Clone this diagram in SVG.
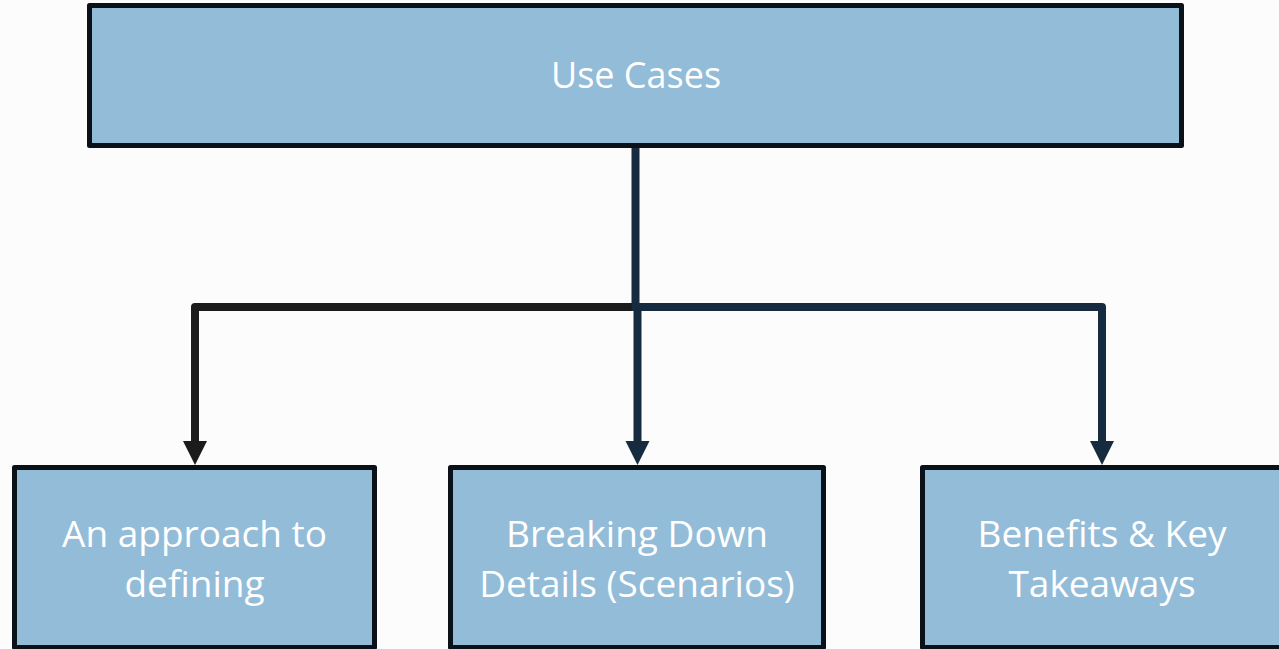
<svg xmlns="http://www.w3.org/2000/svg" width="1279" height="649" viewBox="0 0 1279 649">
  <style>
    .box { fill: #92bcd8; stroke: #0a1118; stroke-width: 5; stroke-linejoin: round; }
    .label { font-family: "Open Sans", "Noto Sans", sans-serif; font-size: 37px; fill: #ffffff; text-anchor: middle; }
    .title { font-size: 36px; }
    .wire { fill: none; stroke-width: 8; stroke-linejoin: round; }
    .navy { stroke: #172b40; }
    .dark { stroke: #1b1b1b; }
  </style>
  <defs>
    <marker id="head-navy" markerUnits="userSpaceOnUse" markerWidth="26" markerHeight="26" refX="2" refY="12" orient="auto" overflow="visible">
      <path d="M0,0 L24,12 L0,24 Z" fill="#172b40"/>
    </marker>
    <marker id="head-dark" markerUnits="userSpaceOnUse" markerWidth="26" markerHeight="26" refX="2" refY="12" orient="auto" overflow="visible">
      <path d="M0,0 L24,12 L0,24 Z" fill="#1b1b1b"/>
    </marker>
  </defs>

  <rect width="1279" height="649" fill="#fcfcfc"/>

  <!-- connectors -->
  <g id="connectors">
    <path class="wire dark" d="M632,307 H195 V443" marker-end="url(#head-dark)"/>
    <path class="wire navy" d="M639,307 H1102 V443" marker-end="url(#head-navy)"/>
    <path class="wire navy" d="M637.5,305 V443" marker-end="url(#head-navy)"/>
    <path class="wire navy" d="M635.5,146 V311"/>
  </g>

  <!-- root -->
  <g id="use-cases">
    <rect class="box" x="89.5" y="5.5" width="1092" height="140"/>
    <text class="label title" x="636" y="88">Use Cases</text>
  </g>

  <!-- children -->
  <g id="approach">
    <rect class="box" x="14.5" y="467.5" width="360" height="180"/>
    <text class="label" x="194.5" y="547">An approach to</text>
    <text class="label" x="194.5" y="597">defining</text>
  </g>

  <g id="breaking-down">
    <rect class="box" x="450.5" y="467.5" width="373" height="180"/>
    <text class="label" x="637" y="547">Breaking Down</text>
    <text class="label" x="637" y="597">Details (Scenarios)</text>
  </g>

  <g id="benefits">
    <rect class="box" x="922.5" y="467.5" width="359" height="180"/>
    <text class="label" x="1102" y="547">Benefits &amp; Key</text>
    <text class="label" x="1102" y="597">Takeaways</text>
  </g>
</svg>
